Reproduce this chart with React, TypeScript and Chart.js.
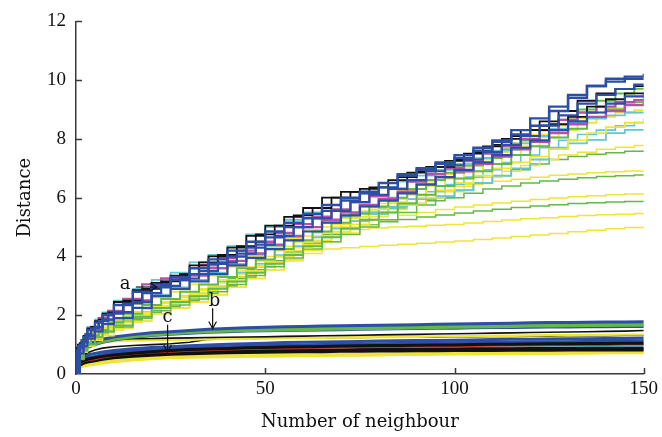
import React, { useEffect, useRef } from "react";
import { Chart, registerables } from "chart.js";

Chart.register(...registerables);

// ---------- data ----------
const xs = [0, 1, 2, 3, 5, 7, 10, 15, 20, 25, 30, 35, 40, 45, 50, 55, 60, 65, 70, 75, 80, 85, 90, 95, 100, 105, 110, 115, 120, 125, 130, 135, 140, 145, 150];
const xTicks = [0, 50, 100, 150];
const yTicks = [0, 2, 4, 6, 8, 10, 12];

// upper group (stepped curves)
const uBlue1 = [0, 0.9, 1.1, 1.3, 1.6, 1.85, 2.1, 2.45, 2.95, 3.2, 3.4, 3.75, 4.0, 4.3, 4.65, 5.0, 5.3, 5.55, 5.9, 6.15, 6.35, 6.75, 6.95, 7.15, 7.35, 7.6, 7.9, 8.15, 8.45, 8.95, 9.4, 9.8, 10.05, 10.12, 10.22];
const uBlue2 = [0, 0.8, 1.0, 1.25, 1.5, 1.75, 2.0, 2.35, 2.8, 3.05, 3.3, 3.6, 3.9, 4.2, 4.5, 4.85, 5.15, 5.45, 5.75, 6.0, 6.2, 6.5, 6.8, 7.0, 7.2, 7.45, 7.7, 7.95, 8.3, 8.7, 9.1, 9.5, 9.8, 9.95, 10.05];
const uBlue3 = [0, 0.95, 1.15, 1.35, 1.55, 1.8, 2.05, 2.4, 2.75, 3.0, 3.25, 3.5, 3.8, 4.1, 4.4, 4.7, 5.0, 5.3, 5.55, 5.85, 6.1, 6.3, 6.6, 6.9, 7.1, 7.3, 7.55, 7.8, 8.1, 8.45, 8.8, 9.2, 9.5, 9.7, 9.85];
const uBlue4 = [0, 0.7, 0.95, 1.2, 1.45, 1.7, 1.9, 2.25, 2.65, 2.9, 3.15, 3.4, 3.7, 3.95, 4.25, 4.55, 4.85, 5.15, 5.4, 5.7, 5.9, 6.15, 6.45, 6.7, 6.95, 7.2, 7.45, 7.7, 7.95, 8.3, 8.6, 8.9, 9.2, 9.45, 9.6];
const uMagenta1 = [0, 0.85, 1.1, 1.3, 1.6, 1.9, 2.15, 2.55, 3.05, 3.25, 3.4, 3.7, 3.95, 4.2, 4.5, 4.8, 5.1, 5.35, 5.6, 5.85, 6.05, 6.3, 6.55, 6.8, 7.0, 7.25, 7.5, 7.75, 8.0, 8.3, 8.65, 8.9, 9.1, 9.25, 9.32];
const uMagenta2 = [0, 0.8, 1.05, 1.25, 1.55, 1.85, 2.1, 2.5, 3.0, 3.2, 3.35, 3.6, 3.85, 4.1, 4.4, 4.7, 5.0, 5.25, 5.5, 5.75, 5.95, 6.2, 6.45, 6.7, 6.9, 7.15, 7.4, 7.65, 7.9, 8.2, 8.5, 8.75, 8.95, 9.15, 9.25];
const uBlack1 = [0, 0.9, 1.05, 1.3, 1.55, 1.8, 2.05, 2.45, 2.85, 3.1, 3.35, 3.7, 4.0, 4.3, 4.7, 5.05, 5.35, 5.65, 6.0, 6.2, 6.3, 6.5, 6.7, 6.9, 7.05, 7.3, 7.55, 7.8, 8.1, 8.3, 8.5, 8.75, 9.1, 9.35, 9.55];
const uBlack2 = [0, 1.0, 1.15, 1.35, 1.6, 1.85, 2.1, 2.5, 2.9, 3.15, 3.4, 3.8, 4.05, 4.35, 4.75, 5.05, 5.4, 5.65, 6.0, 6.2, 6.35, 6.6, 6.85, 7.05, 7.25, 7.5, 7.75, 8.0, 8.3, 8.6, 8.95, 9.3, 9.55, 9.7, 9.8];
const uGreen1 = [0, 0.6, 0.85, 1.05, 1.3, 1.5, 1.75, 2.05, 2.35, 2.55, 2.8, 3.05, 3.3, 3.6, 3.9, 4.25, 4.55, 4.85, 5.15, 5.45, 5.7, 6.0, 6.3, 6.6, 6.85, 7.1, 7.35, 7.65, 7.95, 8.3, 8.65, 9.0, 9.3, 9.55, 9.71];
const uGreen2 = [0, 0.5, 0.8, 1.0, 1.25, 1.45, 1.65, 1.95, 2.25, 2.45, 2.65, 2.9, 3.15, 3.45, 3.75, 4.05, 4.35, 4.65, 4.95, 5.25, 5.5, 5.8, 6.1, 6.4, 6.65, 6.9, 7.15, 7.45, 7.75, 8.05, 8.35, 8.7, 9.0, 9.25, 9.45];
const uYellow1 = [0, 0.75, 1.0, 1.2, 1.45, 1.6, 1.8, 2.1, 2.4, 2.6, 2.8, 3.05, 3.35, 3.65, 4.0, 4.3, 4.6, 4.9, 5.2, 5.45, 5.7, 5.95, 6.25, 6.55, 6.8, 7.05, 7.3, 7.55, 7.85, 8.15, 8.45, 8.7, 8.9, 9.05, 9.15];
const uYellow2 = [0, 0.85, 1.1, 1.25, 1.4, 1.55, 1.7, 2.0, 2.25, 2.45, 2.65, 2.9, 3.2, 3.5, 3.85, 4.2, 4.5, 4.8, 5.1, 5.35, 5.6, 5.85, 6.1, 6.4, 6.65, 6.9, 7.15, 7.45, 7.75, 8.05, 8.3, 8.55, 8.75, 8.9, 8.98];
const uCyan1 = [0, 0.8, 1.05, 1.3, 1.6, 1.85, 2.1, 2.5, 2.9, 3.2, 3.45, 3.8, 4.05, 4.35, 4.75, 5.0, 5.25, 5.5, 5.75, 5.95, 6.15, 6.35, 6.55, 6.75, 6.95, 7.15, 7.35, 7.6, 7.85, 8.1, 8.35, 8.55, 8.7, 8.8, 8.9];
const uYellow3 = [0, 0.7, 0.95, 1.15, 1.35, 1.55, 1.75, 2.0, 2.3, 2.5, 2.7, 2.95, 3.2, 3.5, 3.8, 4.1, 4.4, 4.7, 5.0, 5.25, 5.5, 5.75, 6.0, 6.25, 6.5, 6.75, 7.0, 7.2, 7.4, 7.65, 7.95, 8.2, 8.4, 8.55, 8.7];
const uCyan2 = [0, 0.6, 0.9, 1.1, 1.35, 1.5, 1.7, 1.95, 2.25, 2.45, 2.65, 2.9, 3.15, 3.45, 3.75, 4.05, 4.35, 4.65, 4.95, 5.2, 5.45, 5.7, 5.95, 6.2, 6.45, 6.7, 6.95, 7.2, 7.45, 7.7, 7.95, 8.15, 8.3, 8.45, 8.56];
const uCyan3 = [0, 0.75, 1.0, 1.2, 1.4, 1.6, 1.8, 2.1, 2.45, 2.7, 2.95, 3.2, 3.45, 3.75, 4.05, 4.35, 4.65, 4.9, 5.15, 5.35, 5.5, 5.65, 5.8, 5.95, 6.05, 6.25, 6.5, 6.75, 7.0, 7.3, 7.7, 7.85, 7.97, 8.2, 8.31];
const uYellow4 = [0, 0.7, 0.9, 1.1, 1.3, 1.5, 1.65, 1.95, 2.2, 2.4, 2.6, 2.85, 3.1, 3.4, 3.7, 4.0, 4.3, 4.55, 4.85, 5.1, 5.35, 5.6, 5.8, 6.0, 6.2, 6.45, 6.7, 6.9, 7.1, 7.3, 7.45, 7.55, 7.65, 7.72, 7.78];
const uGreen3 = [0, 0.55, 0.8, 1.0, 1.25, 1.45, 1.6, 1.9, 2.15, 2.35, 2.55, 2.8, 3.05, 3.35, 3.65, 3.95, 4.25, 4.5, 4.75, 5.0, 5.25, 5.5, 5.75, 6.0, 6.25, 6.5, 6.75, 6.95, 7.15, 7.3, 7.4, 7.48, 7.53, 7.58, 7.61];
const uYellow5 = [0, 0.65, 0.9, 1.1, 1.3, 1.45, 1.6, 1.85, 2.1, 2.3, 2.5, 2.75, 3.0, 3.3, 3.65, 4.0, 4.35, 4.7, 5.0, 5.3, 5.55, 5.8, 5.95, 6.1, 6.25, 6.38, 6.48, 6.56, 6.63, 6.7, 6.76, 6.81, 6.85, 6.88, 6.91];
const uGreen4 = [0, 0.6, 0.85, 1.05, 1.25, 1.4, 1.6, 1.85, 2.1, 2.3, 2.5, 2.75, 3.0, 3.3, 3.65, 4.0, 4.35, 4.65, 4.95, 5.2, 5.45, 5.65, 5.8, 5.9, 6.0, 6.15, 6.3, 6.4, 6.5, 6.57, 6.63, 6.68, 6.72, 6.75, 6.77];
const uYellow6 = [0, 0.5, 0.75, 0.95, 1.2, 1.4, 1.55, 1.8, 2.05, 2.25, 2.45, 2.7, 2.95, 3.25, 3.55, 3.9, 4.2, 4.5, 4.8, 5.05, 5.25, 5.4, 5.5, 5.6, 5.68, 5.75, 5.82, 5.88, 5.94, 5.99, 6.03, 6.07, 6.1, 6.13, 6.15];
const uGreen5 = [0, 0.45, 0.7, 0.9, 1.15, 1.35, 1.55, 1.8, 2.1, 2.25, 2.45, 2.7, 2.95, 3.25, 3.55, 3.85, 4.15, 4.45, 4.75, 4.95, 5.08, 5.18, 5.26, 5.34, 5.41, 5.48, 5.55, 5.61, 5.67, 5.72, 5.76, 5.8, 5.83, 5.85, 5.87];
const uYellow7 = [0, 0.55, 0.8, 1.0, 1.2, 1.35, 1.5, 1.75, 2.05, 2.25, 2.45, 2.7, 2.95, 3.25, 3.55, 3.85, 4.2, 4.5, 4.8, 4.92, 4.97, 5.0, 5.03, 5.06, 5.09, 5.14, 5.19, 5.24, 5.28, 5.32, 5.36, 5.39, 5.42, 5.44, 5.46];
const uYellow8 = [0, 0.5, 0.75, 0.95, 1.15, 1.3, 1.55, 1.8, 2.05, 2.25, 2.45, 2.7, 2.95, 3.25, 3.55, 3.85, 4.1, 4.25, 4.3, 4.34, 4.38, 4.42, 4.45, 4.49, 4.53, 4.58, 4.63, 4.68, 4.73, 4.78, 4.84, 4.89, 4.94, 4.99, 5.03];

// lower group (smooth, nearly flat curves)
const lBlue1 = [0, 0.75, 0.9, 1.0, 1.1, 1.18, 1.26, 1.34, 1.4, 1.44, 1.48, 1.52, 1.55, 1.57, 1.59, 1.61, 1.62, 1.63, 1.64, 1.65, 1.66, 1.67, 1.68, 1.69, 1.7, 1.71, 1.72, 1.73, 1.74, 1.75, 1.75, 1.76, 1.77, 1.77, 1.78];
const lGreen1 = [0, 0.7, 0.85, 0.95, 1.05, 1.13, 1.22, 1.3, 1.36, 1.4, 1.44, 1.48, 1.5, 1.52, 1.53, 1.54, 1.55, 1.56, 1.57, 1.58, 1.59, 1.6, 1.61, 1.62, 1.63, 1.64, 1.65, 1.66, 1.67, 1.67, 1.68, 1.69, 1.69, 1.7, 1.7];
const lGreen2 = [0, 0.65, 0.8, 0.92, 1.02, 1.1, 1.18, 1.27, 1.33, 1.37, 1.41, 1.44, 1.46, 1.48, 1.49, 1.5, 1.51, 1.52, 1.53, 1.54, 1.55, 1.56, 1.57, 1.58, 1.59, 1.6, 1.61, 1.62, 1.63, 1.63, 1.64, 1.65, 1.65, 1.66, 1.66];
const lBlue2 = [0, 0.6, 0.78, 0.9, 1.0, 1.08, 1.16, 1.25, 1.31, 1.35, 1.39, 1.42, 1.44, 1.46, 1.47, 1.48, 1.49, 1.5, 1.51, 1.52, 1.53, 1.54, 1.55, 1.56, 1.56, 1.57, 1.58, 1.58, 1.59, 1.6, 1.6, 1.61, 1.61, 1.62, 1.62];
const lBlack1 = [0, 0.85, 0.95, 1.0, 1.08, 1.14, 1.18, 1.2, 1.21, 1.22, 1.23, 1.24, 1.25, 1.26, 1.27, 1.28, 1.29, 1.3, 1.31, 1.32, 1.33, 1.34, 1.35, 1.36, 1.37, 1.38, 1.39, 1.4, 1.41, 1.42, 1.43, 1.44, 1.45, 1.46, 1.48];
const lYellow1 = [0, 0.8, 0.9, 0.96, 1.03, 1.08, 1.12, 1.14, 1.15, 1.16, 1.17, 1.18, 1.19, 1.2, 1.21, 1.22, 1.23, 1.23, 1.24, 1.25, 1.26, 1.26, 1.27, 1.28, 1.28, 1.29, 1.3, 1.3, 1.31, 1.32, 1.32, 1.33, 1.33, 1.34, 1.34];
const lBlack2 = [0, 0.5, 0.65, 0.72, 0.82, 0.88, 0.93, 0.97, 1.0, 1.03, 1.08, 1.18, 1.2, 1.21, 1.22, 1.22, 1.23, 1.23, 1.24, 1.24, 1.25, 1.25, 1.26, 1.26, 1.27, 1.27, 1.28, 1.28, 1.29, 1.29, 1.3, 1.3, 1.3, 1.31, 1.31];
const lBlue3 = [0, 0.45, 0.58, 0.65, 0.7, 0.75, 0.8, 0.86, 0.9, 0.93, 0.96, 0.99, 1.01, 1.03, 1.05, 1.07, 1.08, 1.09, 1.1, 1.11, 1.12, 1.13, 1.14, 1.14, 1.15, 1.16, 1.17, 1.18, 1.18, 1.19, 1.2, 1.2, 1.21, 1.21, 1.22];
const lBlue4 = [0, 0.4, 0.5, 0.56, 0.6, 0.66, 0.72, 0.78, 0.82, 0.85, 0.88, 0.91, 0.93, 0.95, 0.97, 0.98, 0.99, 1.0, 1.01, 1.02, 1.03, 1.04, 1.05, 1.05, 1.06, 1.07, 1.08, 1.08, 1.09, 1.1, 1.1, 1.11, 1.11, 1.12, 1.12];
const lBlack3 = [0, 0.38, 0.46, 0.5, 0.55, 0.6, 0.65, 0.71, 0.76, 0.8, 0.83, 0.85, 0.87, 0.89, 0.9, 0.92, 0.93, 0.94, 0.95, 0.96, 0.97, 0.97, 0.98, 0.99, 0.99, 1.0, 1.01, 1.01, 1.02, 1.03, 1.03, 1.04, 1.04, 1.05, 1.05];
const lRed = [0, 0.35, 0.43, 0.47, 0.5, 0.56, 0.62, 0.68, 0.73, 0.76, 0.79, 0.81, 0.83, 0.85, 0.86, 0.87, 0.88, 0.89, 0.9, 0.91, 0.92, 0.92, 0.93, 0.94, 0.95, 0.95, 0.96, 0.97, 0.97, 0.98, 0.98, 0.99, 0.99, 1.0, 1.0];
const lCyan = [0, 0.3, 0.36, 0.4, 0.45, 0.5, 0.55, 0.6, 0.65, 0.68, 0.71, 0.74, 0.76, 0.78, 0.8, 0.81, 0.82, 0.83, 0.84, 0.85, 0.86, 0.86, 0.87, 0.88, 0.89, 0.89, 0.9, 0.91, 0.91, 0.92, 0.92, 0.93, 0.93, 0.94, 0.94];
const lBlack4 = [0, 0.35, 0.42, 0.46, 0.5, 0.55, 0.6, 0.66, 0.7, 0.72, 0.74, 0.76, 0.77, 0.78, 0.8, 0.81, 0.81, 0.82, 0.82, 0.83, 0.83, 0.84, 0.84, 0.85, 0.85, 0.86, 0.86, 0.86, 0.87, 0.87, 0.87, 0.88, 0.88, 0.88, 0.88];
const lBlack5 = [0, 0.3, 0.37, 0.41, 0.45, 0.5, 0.55, 0.6, 0.64, 0.67, 0.69, 0.71, 0.72, 0.73, 0.74, 0.75, 0.76, 0.76, 0.77, 0.77, 0.78, 0.78, 0.79, 0.79, 0.8, 0.8, 0.8, 0.81, 0.81, 0.81, 0.82, 0.82, 0.82, 0.82, 0.82];
const lYellow2 = [0, 0.25, 0.3, 0.33, 0.36, 0.4, 0.45, 0.52, 0.56, 0.58, 0.6, 0.61, 0.62, 0.62, 0.63, 0.64, 0.65, 0.66, 0.67, 0.68, 0.68, 0.69, 0.7, 0.7, 0.71, 0.72, 0.72, 0.73, 0.73, 0.74, 0.74, 0.75, 0.75, 0.76, 0.76];
const lYellow3 = [0, 0.22, 0.27, 0.3, 0.33, 0.37, 0.42, 0.48, 0.52, 0.55, 0.57, 0.58, 0.59, 0.6, 0.6, 0.61, 0.62, 0.63, 0.64, 0.64, 0.65, 0.66, 0.66, 0.67, 0.68, 0.68, 0.69, 0.69, 0.7, 0.7, 0.71, 0.71, 0.72, 0.72, 0.72];

// annotations
const noteTexts = ["a", "b", "c"];
const noteX = [13.0, 36.6, 24.2];
const noteY = [3.06, 2.49, 1.92];
const arrowFromX = [15.8, 36.1, 24.2];
const arrowFromY = [2.96, 2.24, 1.68];
const arrowToX = [21.4, 36.1, 24.2];
const arrowToY = [2.96, 1.55, 0.75];

// ---------- styles ----------
const BLUE = "#2d4ea5";
const MAGENTA = "#b552a8";
const CYAN = "#63c6d8";
const YELLOW = "#efe537";
const GREEN = "#63b948";
const BLACK = "#111111";
const RED = "#c0392b";
const AXIS = "#3a3a3a";
const SERIF = "'DejaVu Serif', serif";
const TICKFONT = "'Liberation Serif', serif";

type Step = false | "before" | "after" | "middle";
type S = { data: number[]; color: string; width: number; stepped: Step };

const upper = (data: number[], color: string, width: number, stepped: Step): S => ({ data, color, width, stepped });
const lower = (data: number[], color: string, width = 2.6): S => ({ data, color, width, stepped: false });

const seriesList: S[] = [
  upper(uBlue1, BLUE, 2.4, "before"),
  upper(uBlue2, BLUE, 2.4, "after"),
  upper(uBlue3, BLUE, 2.2, "middle"),
  upper(uBlue4, BLUE, 2.2, "before"),
  upper(uBlack2, BLACK, 1.8, "middle"),
  upper(uBlack1, BLACK, 1.8, "after"),
  upper(uMagenta1, MAGENTA, 2.4, "middle"),
  upper(uMagenta2, MAGENTA, 2.4, "before"),
  upper(uCyan1, CYAN, 1.8, "after"),
  upper(uGreen1, GREEN, 2.0, "middle"),
  upper(uGreen2, GREEN, 2.0, "before"),
  upper(uYellow1, YELLOW, 1.8, "after"),
  upper(uYellow2, YELLOW, 1.8, "middle"),
  upper(uYellow3, YELLOW, 1.8, "before"),
  upper(uCyan2, CYAN, 1.6, "middle"),
  upper(uCyan3, CYAN, 1.8, "after"),
  upper(uYellow4, YELLOW, 1.5, "middle"),
  upper(uGreen3, GREEN, 1.5, "before"),
  upper(uYellow5, YELLOW, 1.5, "after"),
  upper(uGreen4, GREEN, 1.5, "middle"),
  upper(uYellow6, YELLOW, 1.5, "before"),
  upper(uGreen5, GREEN, 1.5, "after"),
  upper(uYellow7, YELLOW, 1.5, "middle"),
  upper(uYellow8, YELLOW, 1.5, "before"),
  lower(lBlue1, BLUE, 3),
  lower(lGreen1, GREEN, 3),
  lower(lGreen2, GREEN, 3),
  lower(lBlue2, BLUE, 3),
  lower(lBlack1, BLACK, 1.6),
  lower(lYellow1, YELLOW, 2.4),
  lower(lBlack2, BLACK, 1.6),
  lower(lBlack3, BLACK, 3),
  lower(lRed, RED, 2),
  lower(lBlack4, BLACK, 3),
  lower(lBlack5, BLACK, 3),
  lower(lBlue3, BLUE, 3),
  lower(lBlue4, BLUE, 3),
  lower(lCyan, CYAN, 2.4),
  lower(lYellow2, YELLOW, 3),
  lower(lYellow3, YELLOW, 3),
];

const decorPlugin = {
  id: "decor",
  afterDatasetsDraw(chart: any) {
    const { ctx, chartArea, scales } = chart;
    const x = scales.x;
    const y = scales.y;
    ctx.save();
    // inward tick marks
    ctx.strokeStyle = AXIS;
    ctx.lineWidth = 1.5;
    xTicks.forEach((v) => {
      if (v === 0) return;
      const px = Math.round(x.getPixelForValue(v)) + 0.5;
      ctx.beginPath();
      ctx.moveTo(px, chartArea.bottom);
      ctx.lineTo(px, chartArea.bottom - 6);
      ctx.stroke();
    });
    yTicks.forEach((v) => {
      if (v === 0) return;
      const py = Math.round(y.getPixelForValue(v)) + 0.5;
      ctx.beginPath();
      ctx.moveTo(chartArea.left, py);
      ctx.lineTo(chartArea.left + 6, py);
      ctx.stroke();
    });
    // annotation letters and arrows
    ctx.fillStyle = "#111";
    ctx.strokeStyle = "#111";
    ctx.lineWidth = 1.2;
    ctx.font = "18px " + SERIF;
    ctx.textAlign = "center";
    ctx.textBaseline = "middle";
    noteTexts.forEach((t, i) => {
      ctx.fillText(t, x.getPixelForValue(noteX[i]), y.getPixelForValue(noteY[i]));
      const x0 = x.getPixelForValue(arrowFromX[i]);
      const y0 = y.getPixelForValue(arrowFromY[i]);
      const x1 = x.getPixelForValue(arrowToX[i]);
      const y1 = y.getPixelForValue(arrowToY[i]);
      ctx.beginPath();
      ctx.moveTo(x0, y0);
      ctx.lineTo(x1, y1);
      ctx.stroke();
      const ang = Math.atan2(y1 - y0, x1 - x0);
      const hl = 8;
      const spread = 0.5;
      ctx.beginPath();
      ctx.moveTo(x1 - hl * Math.cos(ang - spread), y1 - hl * Math.sin(ang - spread));
      ctx.lineTo(x1, y1);
      ctx.lineTo(x1 - hl * Math.cos(ang + spread), y1 - hl * Math.sin(ang + spread));
      ctx.stroke();
    });
    ctx.restore();
  },
};

export default function App() {
  const ref = useRef<HTMLCanvasElement | null>(null);

  useEffect(() => {
    if (!ref.current) return;
    const datasets = seriesList.map((s) => ({
      data: xs.map((xv, i) => ({ x: xv, y: s.data[i] })),
      borderColor: s.color,
      borderWidth: s.width,
      stepped: s.stepped,
      pointRadius: 0,
      tension: 0,
      fill: false,
    }));
    const chart = new Chart(ref.current, {
      type: "line",
      data: { datasets },
      plugins: [decorPlugin],
      options: {
        animation: false,
        responsive: false,
        events: [],
        layout: { padding: { left: 0, right: 15, top: 17, bottom: 0 } },
        plugins: { legend: { display: false }, tooltip: { enabled: false } },
        scales: {
          x: {
            type: "linear",
            min: 0,
            max: 150,
            afterFit: (s: any) => {
              s.height = 63;
            },
            afterBuildTicks: (s: any) => {
              s.ticks = xTicks.map((v) => ({ value: v }));
            },
            grid: { display: false, drawTicks: false },
            border: { display: true, color: AXIS, width: 1.5 },
            ticks: { color: "#111", font: { family: TICKFONT, size: 19 }, padding: 4, maxRotation: 0 },
            title: {
              display: true,
              text: "Number of neighbour",
              color: "#111",
              font: { family: SERIF, size: 18 },
              padding: { top: 0, bottom: 4 },
            },
          },
          y: {
            type: "linear",
            min: 0,
            max: 12,
            afterFit: (s: any) => {
              s.width = 76;
            },
            afterBuildTicks: (s: any) => {
              s.ticks = yTicks.map((v) => ({ value: v }));
            },
            grid: { display: false, drawTicks: false },
            border: { display: true, color: AXIS, width: 1.5 },
            ticks: { color: "#111", font: { family: TICKFONT, size: 19 }, padding: 10 },
            title: {
              display: true,
              text: "Distance",
              color: "#111",
              font: { family: SERIF, size: 18 },
              padding: { top: 15, bottom: 0 },
            },
          },
        },
      },
    });
    return () => chart.destroy();
  }, []);

  return (
    <div style={{ position: "fixed", left: 0, top: 0, width: 662, height: 437, background: "#fff" }}>
      <canvas ref={ref} width={662} height={437} style={{ width: 662, height: 437, display: "block" }} />
    </div>
  );
}
